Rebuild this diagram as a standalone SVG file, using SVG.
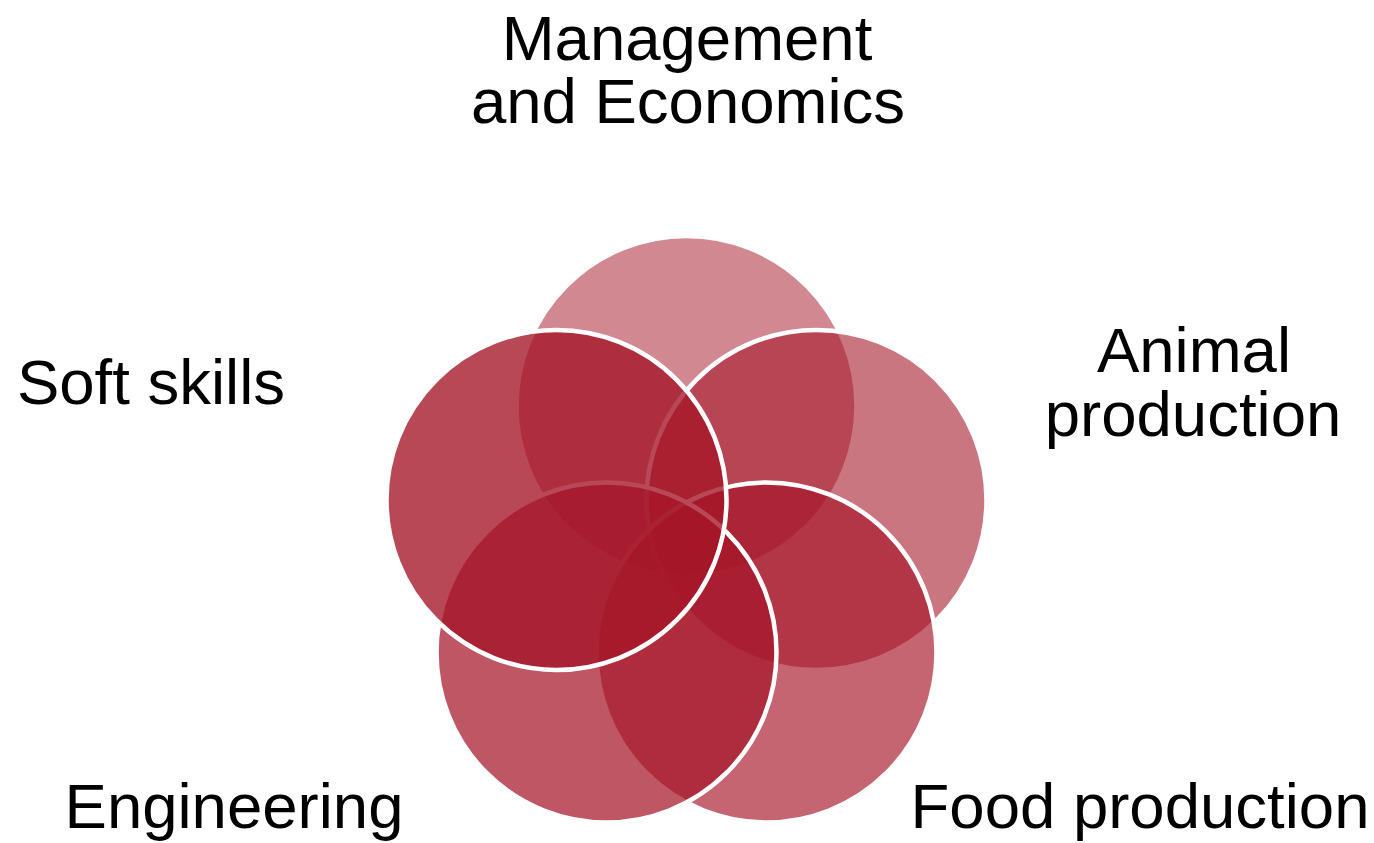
<svg xmlns="http://www.w3.org/2000/svg" width="1374" height="843" viewBox="0 0 1374 843">
  <style>
    .ring { fill: #a51628; stroke: #ffffff; stroke-width: 4.5; }
    .label { font-family: "Liberation Sans", Arial, sans-serif; font-size: 63.5px; fill: #000000; text-anchor: middle; }
  </style>
  <rect width="1374" height="843" fill="#ffffff"/>

  <!-- five overlapping circles on a pentagon, drawn clockwise from the top -->
  <g id="management">
    <circle class="ring" cx="686.5" cy="406" r="170" fill-opacity="0.51"/>
    <text class="label" x="687" y="60">Management</text>
    <text class="label" x="688" y="123">and Economics</text>
  </g>
  <g id="animal">
    <circle class="ring" cx="816.5" cy="500" r="170" fill-opacity="0.59"/>
    <text class="label" x="1194" y="372">Animal</text>
    <text class="label" x="1193" y="436">production</text>
  </g>
  <g id="food">
    <circle class="ring" cx="766.5" cy="652.5" r="170" fill-opacity="0.66"/>
    <text class="label" x="1140" y="828">Food production</text>
  </g>
  <g id="engineering">
    <circle class="ring" cx="606.5" cy="652.5" r="170" fill-opacity="0.725"/>
    <text class="label" x="234" y="828">Engineering</text>
  </g>
  <g id="soft-skills">
    <circle class="ring" cx="556.5" cy="500" r="170" fill-opacity="0.785"/>
    <text class="label" x="151" y="404">Soft skills</text>
  </g>

  <g id="connectors"/>
</svg>
